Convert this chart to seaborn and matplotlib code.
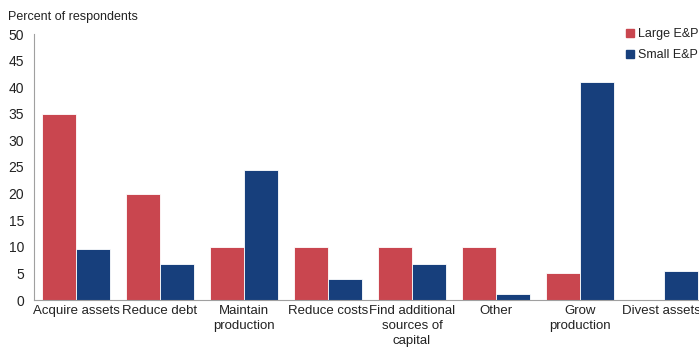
import matplotlib
matplotlib.use("Agg")
import matplotlib.pyplot as plt
import matplotlib.transforms as mtransforms
from matplotlib.lines import Line2D
import seaborn as sns
import pandas as pd
import numpy as np

categories = ["Acquire assets", "Reduce debt", "Maintain\nproduction", "Reduce costs",
              "Find additional\nsources of\ncapital", "Other", "Grow\nproduction", "Divest assets"]
large_ep = [35, 20, 10, 10, 10, 10, 5, 0]
small_ep = [9.5, 6.8, 24.5, 4, 6.8, 1.2, 41, 5.5]
series = ["Large E&P", "Small E&P"]
colors = ["#C9464F", "#173F7C"]
yticks = [0, 5, 10, 15, 20, 25, 30, 35, 40, 45, 50]

df = pd.DataFrame({
    "category": categories * 2,
    "value": large_ep + small_ep,
    "series": [series[0]] * len(categories) + [series[1]] * len(categories),
})

sns.set_style("white")
plt.rcParams["font.family"] = ["Liberation Sans", "DejaVu Sans"]

W, H = 699, 347
fig = plt.figure(figsize=(W / 100, H / 100), dpi=100)
ax = fig.add_axes([34 / W, (H - 300) / H, 672 / W, 266 / H])

sns.barplot(data=df, x="category", y="value", hue="series", order=categories,
            hue_order=series, palette=colors, saturation=1, width=0.8,
            edgecolor="white", linewidth=0.6, ax=ax, legend=False)

ax.set_xlim(-0.5, len(categories) - 0.5)
ax.set_ylim(0, 50)
ax.set_yticks(yticks)
ax.set_xlabel("")
ax.set_ylabel("")

for side in ["top", "right"]:
    ax.spines[side].set_visible(False)
for side in ["left", "bottom"]:
    ax.spines[side].set_color("#A0A0A0")
    ax.spines[side].set_linewidth(0.8)

ax.tick_params(axis="y", which="major", length=4, width=0.8, color="#A0A0A0",
               labelsize=10, labelcolor="#222222", pad=3)
ax.tick_params(axis="x", which="major", length=0, labelsize=9.5,
               labelcolor="#222222", pad=3.5)
ax.set_xticks(np.arange(0.5, len(categories) - 0.5, 1), minor=True)
ax.tick_params(axis="x", which="minor", length=4, width=0.8, color="#A0A0A0")
for lbl in ax.get_xticklabels():
    lbl.set_multialignment("center")
    lbl.set_linespacing(1.32)
# keep the rightmost label inside the figure edge
last = ax.get_xticklabels()[-1]
last.set_transform(last.get_transform() +
                   mtransforms.ScaledTranslation(-3 / 100, 0, fig.dpi_scale_trans))

fig.text(8 / W, 1 - 17 / H, "Percent of respondents", fontsize=9,
         color="#222222", va="center", ha="left")

handles = [Line2D([], [], marker="s", linestyle="", markersize=5.5,
                  markerfacecolor=c, markeredgecolor=c) for c in colors]
fig.legend(handles, series, loc="upper left", bbox_to_anchor=(626 / W, 1 - 28 / H),
           frameon=False, fontsize=9, handlelength=0.6, handletextpad=0.35,
           labelspacing=0.75, borderpad=0, borderaxespad=0, labelcolor="#222222")

fig.savefig("out.png", dpi=100)
